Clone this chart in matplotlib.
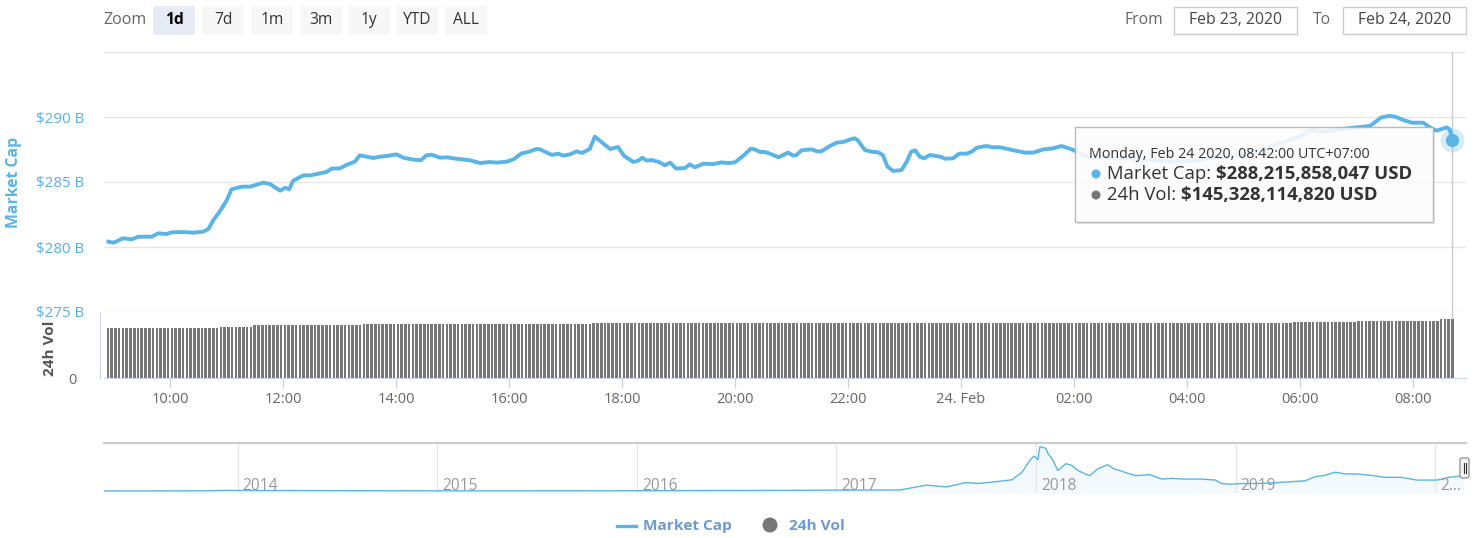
import numpy as np
import matplotlib
matplotlib.use('Agg')
import matplotlib.pyplot as plt
from matplotlib.patches import Rectangle, FancyBboxPatch, Circle
from matplotlib.lines import Line2D
from matplotlib.transforms import offset_copy

plt.rcParams['font.family'] = ['Open Sans', 'DejaVu Sans']

# ---- data: market cap (hours since Feb 23 00:00, billions USD) ----
mc_hour = [8.91, 9.00, 9.17, 9.32, 9.44, 9.68, 9.79, 9.94, 10.03, 10.24,
           10.41, 10.59, 10.68, 10.77, 10.88, 11.00, 11.09, 11.27, 11.42, 11.65,
           11.77, 11.95, 12.04, 12.11, 12.18, 12.36, 12.48, 12.77, 12.86, 13.01,
           13.13, 13.27, 13.36, 13.48, 13.60, 13.72, 13.84, 14.01, 14.13, 14.28,
           14.44, 14.54, 14.63, 14.78, 14.90, 15.07, 15.31, 15.49, 15.66, 15.78,
           15.96, 16.08, 16.22, 16.34, 16.49, 16.55, 16.76, 16.87, 16.96, 17.08,
           17.20, 17.29, 17.43, 17.52, 17.79, 17.93, 18.04, 18.20, 18.29, 18.36,
           18.44, 18.53, 18.67, 18.76, 18.85, 18.96, 19.12, 19.20, 19.29, 19.44,
           19.62, 19.76, 19.88, 20.00, 20.15, 20.28, 20.35, 20.44, 20.53, 20.62,
           20.77, 20.94, 21.03, 21.09, 21.18, 21.36, 21.45, 21.53, 21.68, 21.80,
           21.92, 22.04, 22.12, 22.18, 22.30, 22.42, 22.54, 22.62, 22.70, 22.80,
           22.95, 23.04, 23.12, 23.19, 23.27, 23.35, 23.45, 23.63, 23.72, 23.86,
           23.97, 24.10, 24.19, 24.28, 24.45, 24.57, 24.69, 24.93, 25.13, 25.28,
           25.46, 25.63, 25.78, 25.96, 26.11, 26.23, 26.94, 27.82, 28.23, 29.12,
           29.65, 30.00, 30.18, 30.41, 30.71, 31.00, 31.24, 31.44, 31.58, 31.68,
           31.83, 31.98, 32.18, 32.33, 32.42, 32.60, 32.65, 32.70]
mc_val = [280.41, 280.33, 280.67, 280.59, 280.79, 280.79, 281.05, 281.00, 281.13, 281.15,
          281.10, 281.18, 281.38, 282.08, 282.72, 283.56, 284.44, 284.64, 284.64, 284.95,
          284.85, 284.33, 284.56, 284.44, 285.10, 285.51, 285.51, 285.77, 286.03, 286.05,
          286.33, 286.56, 287.05, 286.95, 286.85, 286.95, 287.00, 287.13, 286.87, 286.74,
          286.67, 287.05, 287.10, 286.87, 286.90, 286.79, 286.67, 286.46, 286.54, 286.49,
          286.56, 286.74, 287.20, 287.31, 287.54, 287.51, 287.08, 287.18, 287.03, 287.13,
          287.36, 287.23, 287.54, 288.49, 287.54, 287.69, 287.00, 286.54, 286.64, 286.87,
          286.64, 286.69, 286.51, 286.28, 286.49, 286.03, 286.08, 286.36, 286.13, 286.41,
          286.38, 286.51, 286.46, 286.51, 287.03, 287.56, 287.51, 287.31, 287.31, 287.18,
          286.90, 287.26, 287.03, 287.08, 287.44, 287.51, 287.36, 287.36, 287.77, 288.03,
          288.08, 288.28, 288.36, 288.18, 287.46, 287.33, 287.28, 287.05, 286.18, 285.85,
          285.92, 286.56, 287.33, 287.44, 286.95, 286.82, 287.08, 286.95, 286.79, 286.82,
          287.18, 287.18, 287.33, 287.64, 287.77, 287.67, 287.67, 287.44, 287.26, 287.26,
          287.51, 287.59, 287.77, 287.51, 287.20, 286.95, 286.82, 286.56, 286.70, 287.20,
          288.00, 288.49, 289.00, 288.87, 289.05, 289.20, 289.31, 289.97, 290.08, 290.03,
          289.77, 289.56, 289.56, 289.13, 288.95, 289.20, 289.05, 288.22]

# ---- data: 24h volume bars, one every 4 minutes, stepwise levels (billions USD) ----
vol_start = 8.9            # 08:54
vol_step = 4 / 60
vol_levels = [122, 126, 130.5, 132.3, 134, 135, 135.5, 138, 141, 145.3]
vol_counts = [30, 9, 29, 61, 40, 17, 129, 17, 22, 4]

# ---- data: navigator (all-time market cap, billions USD) ----
nav_year = [2013.33, 2013.60, 2013.85, 2013.95, 2014.10, 2014.50, 2015.00, 2015.50, 2016.00, 2016.50,
            2016.72, 2017.00, 2017.32, 2017.45, 2017.55, 2017.65, 2017.71, 2017.81, 2017.88, 2017.93,
            2017.97, 2017.99, 2018.01, 2018.02, 2018.05, 2018.06, 2018.08, 2018.11, 2018.15, 2018.18,
            2018.21, 2018.24, 2018.27, 2018.31, 2018.36, 2018.39, 2018.43, 2018.46, 2018.50, 2018.57,
            2018.63, 2018.68, 2018.74, 2018.83, 2018.90, 2018.93, 2018.97, 2019.04, 2019.11, 2019.22,
            2019.35, 2019.40, 2019.44, 2019.50, 2019.55, 2019.61, 2019.69, 2019.75, 2019.83, 2019.91,
            2020.01, 2020.07, 2020.145]
nav_val = [1.5, 2, 5, 12, 10, 7, 4, 4, 6, 10,
           12, 17, 20, 110, 77, 160, 141, 179, 211, 352,
           576, 653, 589, 830, 800, 704, 608, 384, 512, 480,
           384, 333, 288, 416, 493, 416, 371, 333, 288, 307,
           224, 237, 224, 224, 205, 141, 128, 141, 141, 160,
           192, 269, 288, 352, 320, 320, 288, 256, 256, 205,
           205, 256, 288]

hour_ticks = [10, 12, 14, 16, 18, 20, 22, 24, 26, 28, 30, 32]
hour_labels = ['10:00', '12:00', '14:00', '16:00', '18:00', '20:00', '22:00',
               '24. Feb', '02:00', '04:00', '06:00', '08:00']
mc_ticks = [275, 280, 285, 290, 295]
mc_labels = ['$275 B', '$280 B', '$285 B', '$290 B', '']
nav_ticks = [2014, 2015, 2016, 2017, 2018, 2019, 2020]
nav_labels = ['2014', '2015', '2016', '2017', '2018', '2019', '2...']
zoom_buttons = ['1d', '7d', '1m', '3m', '1y', 'YTD', 'ALL']

tip_time = 'Monday, Feb 24 2020, 08:42:00 UTC+07:00'
tip_mcap = 288215858047
tip_vol = 145328114820

BLUE = '#5ab4e8'
GRID = '#e6e6e6'
AXC = '#ccd6eb'

W, H = 1476, 538
fig = plt.figure(figsize=(W / 100, H / 100), dpi=100)


def box(x0, y0, x1, y1):
    return [x0 / W, 1 - y1 / H, (x1 - x0) / W, (y1 - y0) / H]


xlim = (8.832, 32.94)

# ===== market cap pane =====
ax = fig.add_axes(box(104, 52, 1466, 312))
ax.plot(mc_hour[:-1] + [mc_hour[-1]], mc_val[:-1] + [tip_mcap / 1e9],
        color=BLUE, lw=2.8, solid_joinstyle='round', zorder=3)
ax.set_xlim(*xlim)
ax.set_ylim(275, 295)
ax.set_yticks(mc_ticks)
ax.set_yticklabels(mc_labels)
ax.tick_params(axis='y', length=0, pad=14, labelsize=10.9, labelcolor='#5aaee6')
ax.set_xticks([])
ax.grid(axis='y', color=GRID, lw=1)
for s in ax.spines.values():
    s.set_visible(False)
ax.axvline(mc_hour[-1], color='#cccccc', lw=1, zorder=2)
ax.scatter([mc_hour[-1]], [tip_mcap / 1e9], s=300, color=BLUE, alpha=0.25, lw=0, zorder=4, clip_on=False)
ax.scatter([mc_hour[-1]], [tip_mcap / 1e9], s=90, color=BLUE, lw=0, zorder=5, clip_on=False)

# ===== volume pane =====
axv = fig.add_axes(box(104, 312, 1466, 378))
vol = np.repeat(vol_levels, vol_counts)
vol_t = vol_start + np.arange(len(vol)) * vol_step
axv.bar(vol_t, vol, width=0.046, color='#777777', lw=0)
axv.set_xlim(*xlim)
axv.set_ylim(0, 162)
axv.set_yticks([0])
axv.set_yticklabels(['0'])
axv.tick_params(axis='y', length=0, pad=17, labelsize=10.5, labelcolor='#666666')
axv.set_xticks(hour_ticks)
axv.set_xticklabels(hour_labels)
axv.tick_params(axis='x', length=7, width=1, color=AXC, pad=3, labelsize=10.5, labelcolor='#666666')
for k in ['top', 'right']:
    axv.spines[k].set_visible(False)
axv.spines['bottom'].set_color(AXC)
axv.spines['left'].set_color(AXC)
axv.spines['left'].set_position(('outward', 3))
axv.axvline(mc_hour[-1], color='#cccccc', lw=1, zorder=0)
axv.set_facecolor('none')

# ===== navigator =====
axn = fig.add_axes(box(104, 443, 1466, 493))
axn.plot(nav_year, nav_val, color=BLUE, lw=1.0)
axn.fill_between(nav_year, nav_val, -40, color=BLUE, alpha=0.07, lw=0)
axn.set_xlim(2013.33, 2020.155)
axn.set_ylim(-37, 899)
axn.set_yticks([])
axn.set_xticks(nav_ticks)
axn.set_xticklabels([])
axn.tick_params(axis='x', length=0)
axn.grid(axis='x', color=GRID, lw=1)
for k in ['bottom', 'left', 'right']:
    axn.spines[k].set_visible(False)
axn.spines['top'].set_color('#cccccc')
axn.spines['top'].set_linewidth(1.6)
lab_tr = offset_copy(axn.get_xaxis_transform(), fig=fig, x=3.6, y=0, units='points')
for yr, lb in zip(nav_ticks, nav_labels):
    axn.text(yr, 0.14, lb, transform=lab_tr, fontsize=11.2, color='#999999', va='center', ha='left')

# ===== overlay (pixel coordinates) =====
ov = fig.add_axes([0, 0, 1, 1], zorder=10)
ov.set_xlim(0, W)
ov.set_ylim(H, 0)
ov.axis('off')
ov.patch.set_alpha(0)

# navigator handle
ov.add_patch(FancyBboxPatch((1460, 458), 9, 20, boxstyle='round,pad=0,rounding_size=2',
                            fc='#f2f2f2', ec='#999999', lw=1))
ov.plot([1463.5, 1463.5], [463, 473], color='#333333', lw=0.8)
ov.plot([1465.5, 1465.5], [463, 473], color='#333333', lw=0.8)

# zoom buttons
ov.text(103, 20, 'Zoom', fontsize=11.5, color='#666666', va='center', ha='left')
bx = [153, 202, 251, 300, 348, 396, 445]
for i, (x0, lb) in enumerate(zip(bx, zoom_buttons)):
    sel = i == 0
    ov.add_patch(FancyBboxPatch((x0, 6), 42, 29, boxstyle='round,pad=0,rounding_size=2',
                                fc='#e6ebf5' if sel else '#f7f7f7', ec='none'))
    ov.text(x0 + 21, 20, lb, fontsize=11.2, color='#000000' if sel else '#333333',
            fontweight='bold' if sel else 'normal', ha='center', va='center')

# date range inputs
ov.text(1125, 20, 'From', fontsize=11.3, color='#666666', va='center', ha='left')
ov.add_patch(Rectangle((1174, 7), 123, 27, fc='white', ec='#cccccc', lw=1))
ov.text(1235.5, 20, 'Feb 23, 2020', fontsize=11.3, color='#444444', va='center', ha='center')
ov.text(1313, 20, 'To', fontsize=11.3, color='#666666', va='center', ha='left')
ov.add_patch(Rectangle((1343, 7), 123, 27, fc='white', ec='#cccccc', lw=1))
ov.text(1404.5, 20, 'Feb 24, 2020', fontsize=11.3, color='#444444', va='center', ha='center')

# axis titles
ov.text(14, 182, 'Market Cap', rotation=90, fontsize=11.4, fontweight='bold',
        color=BLUE, ha='center', va='center')
ov.text(50, 348, '24h Vol', rotation=90, fontsize=11, fontweight='bold',
        color='#555555', ha='center', va='center')

# tooltip
ov.add_patch(Rectangle((1077, 129), 358, 95, fc='#000000', alpha=0.08, ec='none'))
ov.add_patch(Rectangle((1075, 127), 358, 95, fc='white', alpha=0.88, ec='#b0b0b0', lw=1))
ov.text(1089, 154, tip_time, fontsize=10.3, color='#333333', va='center', ha='left')
ov.add_patch(Circle((1096, 174), 4.5, fc=BLUE, ec='none'))
ov.add_patch(Circle((1096, 195), 4.5, fc='#777777', ec='none'))
t1 = ov.text(1107, 174, 'Market Cap: ', fontsize=13.3, color='#333333', va='center', ha='left')
ov.annotate(f'${tip_mcap:,} USD', xy=(1, 0.5), xycoords=t1, fontsize=13.3,
            fontweight='bold', color='#333333', va='center', ha='left')
t2 = ov.text(1107, 195, '24h Vol: ', fontsize=13.3, color='#333333', va='center', ha='left')
ov.annotate(f'${tip_vol:,} USD', xy=(1, 0.5), xycoords=t2, fontsize=13.3,
            fontweight='bold', color='#333333', va='center', ha='left')

# legend
ov.add_line(Line2D([617, 636], [526, 526], color=BLUE, lw=2.4))
ov.text(643, 526, 'Market Cap', fontsize=11.1, fontweight='bold', color='#6a9bd6', va='center', ha='left')
ov.add_patch(Circle((770, 525), 7.5, fc='#777777', ec='none'))
ov.text(789, 526, '24h Vol', fontsize=11.1, fontweight='bold', color='#6a9bd6', va='center', ha='left')

fig.savefig('out.png', dpi=100)
